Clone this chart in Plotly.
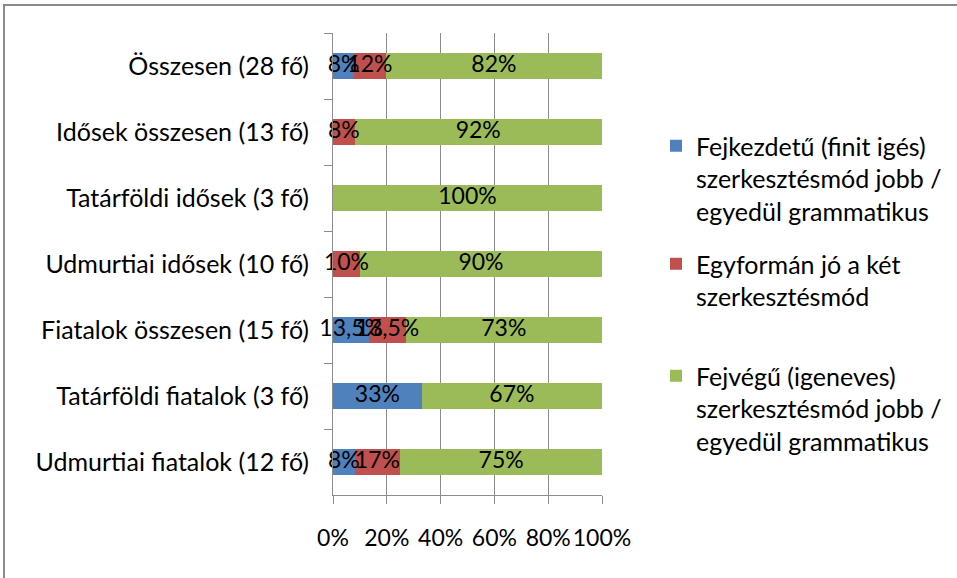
import plotly.graph_objects as go

# Response groups (top to bottom as displayed)
groups = [
    "Összesen (28 fő)",
    "Idősek összesen (13 fő)",
    "Tatárföldi idősek (3 fő)",
    "Udmurtiai idősek (10 fő)",
    "Fiatalok összesen (15 fő)",
    "Tatárföldi fiatalok (3 fő)",
    "Udmurtiai fiatalok (12 fő)",
]

# Share of answers per group (%)
finit_jobb = [8, 0, 0, 0, 13.5, 33, 8]
egyforman = [12, 8, 0, 10, 13.5, 0, 17]
igeneves_jobb = [82, 92, 100, 90, 73, 67, 75]

series_names = [
    "Fejkezdetű (finit igés)<br>szerkesztésmód jobb /<br>egyedül grammatikus",
    "Egyformán jó a két<br>szerkesztésmód",
    "Fejvégű (igeneves)<br>szerkesztésmód jobb /<br>egyedül grammatikus",
]
series_values = [finit_jobb, egyforman, igeneves_jobb]
series_colors = ["#4F81BD", "#C0504D", "#9BBB59"]
legend_ids = ["legend", "legend2", "legend3"]

x_ticks = [0, 20, 40, 60, 80, 100]

W, H = 957, 578
ML, MR, MT, MB = 333, 355, 33, 83
PW, PH = W - ML - MR, H - MT - MB


def px_x(px):
    return (px - ML) / PW


def px_y(py):
    return (H - MB - py) / PH


def pct_label(v):
    return f"{v:g}".replace(".", ",") + "%"


FONT = "Lato, Calibri, sans-serif"

fig = go.Figure()
for name, vals, color, lg in zip(series_names, series_values, series_colors, legend_ids):
    fig.add_trace(
        go.Bar(
            y=groups,
            x=vals,
            orientation="h",
            name=name,
            marker=dict(color=color, line=dict(width=0)),
            legend=lg,
            showlegend=True,
            hoverinfo="skip",
        )
    )

# Value labels sit above every bar segment, centred on each segment
# (positions follow the row-normalised stack, as the bars do).
lab_x, lab_y, lab_t = [], [], []
for i, g in enumerate(groups):
    row = [s[i] for s in series_values]
    total = sum(row)
    start = 0.0
    for v in row:
        if v:
            lab_x.append((start + v / 2) / total * 100)
            lab_y.append(g)
            lab_t.append(pct_label(v))
        start += v

fig.add_trace(
    go.Scatter(
        x=lab_x,
        y=lab_y,
        text=lab_t,
        mode="text",
        textposition="middle center",
        textfont=dict(family=FONT, size=23, color="#000000"),
        cliponaxis=False,
        showlegend=False,
        hoverinfo="skip",
    )
)

legend_tops = [123, 241, 353]
common_legend = dict(
    x=px_x(656),
    xanchor="left",
    yanchor="top",
    valign="top",
    bgcolor="rgba(0,0,0,0)",
    font=dict(family=FONT, size=25, color="#000000"),
    visible=True,
)
legend_layout = {}
for lg, top in zip(legend_ids, legend_tops):
    legend_layout[lg] = dict(common_legend, y=px_y(top))

grid_col = "#8C8C8C"

fig.update_layout(
    width=W,
    height=H,
    margin=dict(l=ML, r=MR, t=MT, b=MB, pad=0, autoexpand=False),
    paper_bgcolor="white",
    plot_bgcolor="white",
    barmode="stack",
    barnorm="percent",
    bargap=0.6,
    showlegend=True,
    font=dict(family=FONT, size=22, color="#000000"),
    xaxis=dict(
        range=[0, 100],
        tickmode="array",
        tickvals=x_ticks,
        ticktext=[f"{v}%" for v in x_ticks],
        tickangle=0,
        tickfont=dict(family=FONT, size=23, color="#000000"),
        showgrid=True,
        gridcolor=grid_col,
        gridwidth=1,
        showline=True,
        linecolor=grid_col,
        linewidth=1,
        ticks="outside",
        ticklen=8,
        tickcolor=grid_col,
        ticklabelstandoff=14,
        zeroline=False,
        automargin=False,
        fixedrange=True,
    ),
    yaxis=dict(
        categoryorder="array",
        categoryarray=groups,
        autorange="reversed",
        showgrid=False,
        showline=True,
        linecolor=grid_col,
        linewidth=1,
        ticks="outside",
        tickson="boundaries",
        ticklen=8,
        tickcolor=grid_col,
        ticklabelstandoff=18,
        tickfont=dict(family=FONT, size=25, color="#000000"),
        automargin=False,
        fixedrange=True,
    ),
    shapes=[
        dict(
            type="rect",
            xref="paper",
            yref="paper",
            x0=px_x(4),
            y0=px_y(H + 20),
            x1=px_x(W + 20),
            y1=px_y(5),
            line=dict(color="#8A8A8A", width=2),
            fillcolor="rgba(0,0,0,0)",
            layer="below",
        )
    ],
    **legend_layout,
)

fig.write_html("out.html")
